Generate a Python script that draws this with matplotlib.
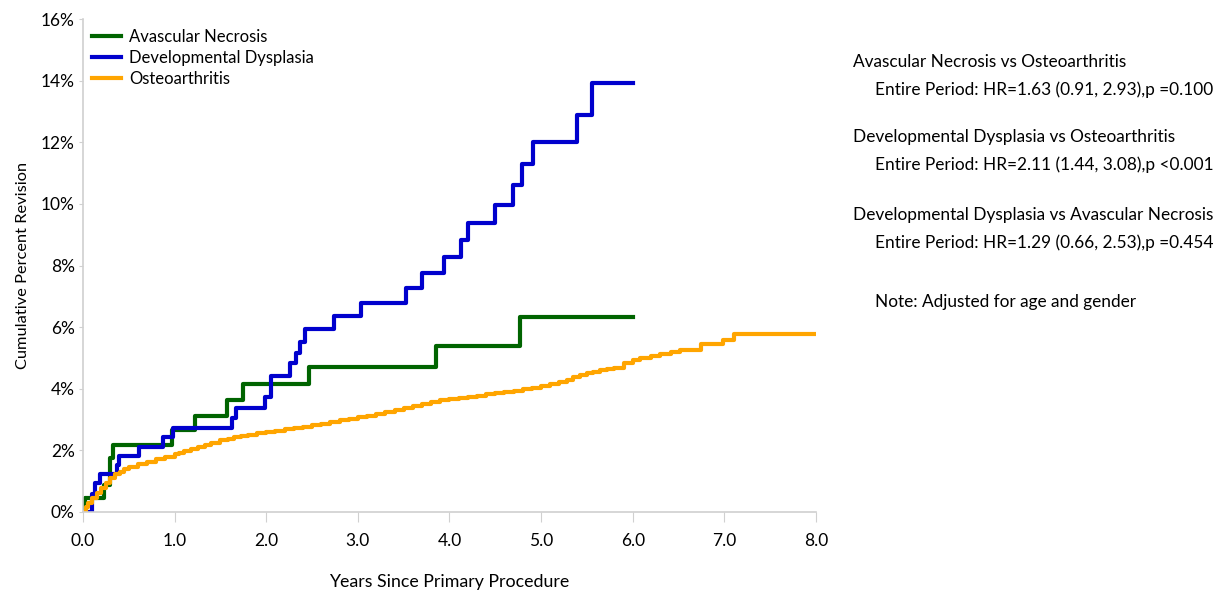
import matplotlib
matplotlib.use("Agg")
from matplotlib import pyplot as plt
from matplotlib.ticker import FuncFormatter

plt.rcParams['font.family'] = ['Lato', 'DejaVu Sans']

# Avascular Necrosis: step times (years) and cumulative % after each step
avn_years = [0.0, 0.02, 0.23, 0.29, 0.33, 0.97, 1.22, 1.57, 1.75, 2.47, 3.85, 4.77, 6.0]
avn_pct = [0.0, 0.45, 0.88, 1.75, 2.18, 2.65, 3.12, 3.62, 4.15, 4.7, 5.4, 6.33, 6.33]

# Developmental Dysplasia
dd_years = [0.0, 0.095, 0.13, 0.19, 0.37, 0.39, 0.61, 0.87, 0.98, 1.63, 1.67, 1.99,
            2.05, 2.26, 2.33, 2.37, 2.42, 2.74, 3.03, 3.53, 3.70, 3.94, 4.13, 4.20,
            4.50, 4.69, 4.79, 4.91, 5.39, 5.55, 6.0]
dd_pct = [0.0, 0.6, 0.94, 1.23, 1.53, 1.82, 2.12, 2.43, 2.72, 3.05, 3.39, 3.73,
          4.41, 4.83, 5.17, 5.53, 5.94, 6.36, 6.79, 7.28, 7.76, 8.27, 8.83, 9.39,
          9.96, 10.61, 11.29, 12.02, 12.9, 13.91, 13.91]

# Osteoarthritis
oa_years = [0.0, 0.03, 0.06, 0.1, 0.15, 0.2, 0.25, 0.3, 0.35, 0.4, 0.45, 0.5, 0.6,
            0.7, 0.8, 0.9, 1.0, 1.05, 1.1, 1.18, 1.25, 1.33, 1.4, 1.5, 1.58, 1.65,
            1.72, 1.8, 1.9, 2.0, 2.1, 2.2, 2.3, 2.4, 2.5, 2.6, 2.7, 2.8, 2.9, 3.0,
            3.1, 3.2, 3.3, 3.4, 3.5, 3.6, 3.7, 3.8, 3.9, 4.0, 4.1, 4.2, 4.3, 4.4,
            4.5, 4.6, 4.7, 4.8, 4.9, 5.0, 5.1, 5.2, 5.28, 5.35, 5.42, 5.5, 5.57,
            5.64, 5.72, 5.8, 5.9, 6.0, 6.08, 6.2, 6.3, 6.42, 6.52, 6.75, 6.98, 7.1, 8.0]
oa_pct = [0.0, 0.15, 0.3, 0.45, 0.62, 0.78, 0.95, 1.1, 1.22, 1.3, 1.38, 1.45, 1.55,
          1.63, 1.72, 1.8, 1.88, 1.92, 1.97, 2.03, 2.1, 2.17, 2.24, 2.33, 2.38, 2.42,
          2.46, 2.5, 2.55, 2.6, 2.64, 2.68, 2.72, 2.77, 2.82, 2.87, 2.92, 2.97, 3.02, 3.07,
          3.12, 3.18, 3.25, 3.31, 3.38, 3.44, 3.5, 3.56, 3.62, 3.67, 3.7, 3.74, 3.78, 3.82,
          3.86, 3.9, 3.94, 3.98, 4.04, 4.1, 4.16, 4.23, 4.3, 4.38, 4.44, 4.5, 4.55,
          4.6, 4.64, 4.68, 4.85, 4.93, 5.0, 5.06, 5.12, 5.2, 5.25, 5.45, 5.58, 5.77, 5.77]

notes = [
    ("Avascular Necrosis vs Osteoarthritis", 0),
    ("Entire Period: HR=1.63 (0.91, 2.93),p =0.100", 1),
    ("Developmental Dysplasia vs Osteoarthritis", 0),
    ("Entire Period: HR=2.11 (1.44, 3.08),p <0.001", 1),
    ("Developmental Dysplasia vs Avascular Necrosis", 0),
    ("Entire Period: HR=1.29 (0.66, 2.53),p =0.454", 1),
    ("Note: Adjusted for age and gender", 1),
]
note_y = [62, 90, 137, 165, 215, 243, 302]

fig = plt.figure(figsize=(12.22, 5.94), dpi=100)
ax = fig.add_axes([83 / 1222, 82 / 594, 733 / 1222, 493 / 594])

ax.step(avn_years, avn_pct, where="post", color="#006400", lw=3, label="Avascular Necrosis")
ax.step(dd_years, dd_pct, where="post", color="#0000CD", lw=3, label="Developmental Dysplasia")
ax.step(oa_years, oa_pct, where="post", color="#FFA500", lw=3, label="Osteoarthritis")

ax.set_xlim(0, 8)
ax.set_ylim(0, 16)
ax.set_xticks(range(9))
ax.set_yticks(range(0, 17, 2))
ax.xaxis.set_major_formatter(FuncFormatter(lambda v, p: "%.1f" % v))
ax.yaxis.set_major_formatter(FuncFormatter(lambda v, p: "%d%%" % v))
ax.tick_params(axis="x", length=7, color="#d0d0d0", labelsize=12.5, pad=8)
ax.tick_params(axis="y", length=3, color="#d0d0d0", labelsize=12.5, pad=3)

for s in ["top", "right"]:
    ax.spines[s].set_visible(False)
for s in ["left", "bottom"]:
    ax.spines[s].set_color("#d0d0d0")
    ax.spines[s].set_linewidth(1.2)

ax.set_xlabel("Years Since Primary Procedure", fontsize=12.8, labelpad=18)
ax.set_ylabel("Cumulative Percent Revision", fontsize=11.8, labelpad=8)

ax.legend(loc="upper left", bbox_to_anchor=(-0.002, 1.0), frameon=False, fontsize=12,
          handlelength=1.75, handletextpad=0.5, labelspacing=0.3, borderaxespad=0.2)

for (txt, indent), py in zip(notes, note_y):
    fig.text((853 + 22 * indent) / 1222, 1 - py / 594, txt, fontsize=12.4, va="center", ha="left")

fig.savefig("out.png", dpi=100)
